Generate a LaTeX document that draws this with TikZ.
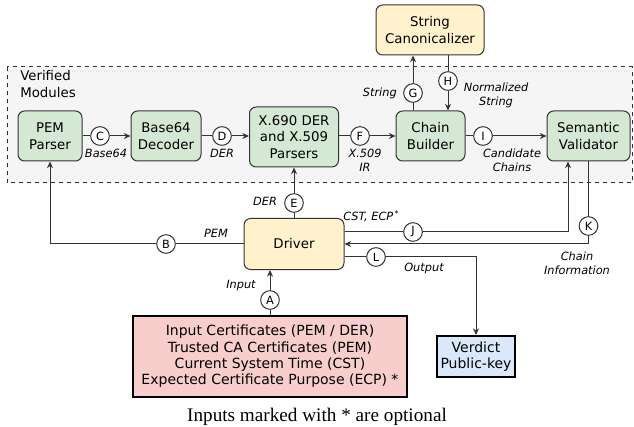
\documentclass[tikz,border=0pt]{standalone}
\usepackage{fontspec}
\setmainfont{DejaVu Sans}
\newfontfamily\capfont{Liberation Serif}
\usetikzlibrary{positioning,arrows.meta,calc}
\definecolor{modCol}{HTML}{D5E8D4}
\definecolor{drvCol}{HTML}{FFF2CC}
\definecolor{inCol}{HTML}{F8CECC}
\definecolor{outCol}{HTML}{DAE8FC}
\definecolor{bgGray}{HTML}{F5F5F5}
\definecolor{lineCol}{HTML}{333333}

\begin{document}
\begin{tikzpicture}[
    x=0.75pt, y=-0.75pt,
    >={Stealth[length=5pt,width=4.5pt]},
    font=\fontsize{10}{12.5}\selectfont,
    box/.style={rounded corners=5pt, draw=lineCol, line width=0.75pt,
      align=center, inner sep=2pt, minimum height=37.5pt},
    module/.style={box, fill=modCol},
    helper/.style={box, fill=drvCol},
    io/.style={draw=black, line width=1.5pt, align=center, inner sep=1.5pt,
      font=\fontsize{10.5}{12.3}\selectfont},
    tag/.style={circle, draw=lineCol, fill=white, line width=0.75pt,
      minimum size=14pt, inner sep=0pt, font=\fontsize{8.5}{10}\selectfont},
    lab/.style={font=\fontsize{8.5}{10.5}\selectfont\itshape, align=center, inner sep=0pt},
    arr/.style={->, line width=0.75pt, draw=lineCol},
  ]
\useasboundingbox (0,0) rectangle (634,427);

% Verified modules frame
\draw[dashed, draw=lineCol, fill=bgGray, line width=0.75pt] (7,67) rectangle (632,183);
\node[anchor=north west, align=left, inner sep=0pt] (vm) at (20,70) {Verified\\Modules};

% Modules
\node[module, minimum width=48pt] (pem) at (50,136) {PEM\\Parser};
\node[module, minimum width=52.5pt] (b64) at (166,136) {Base64\\Decoder};
\node[module, minimum width=66.75pt, minimum height=45pt] (x690) at (294,137) {X.690 DER\\and X.509\\Parsers};
\node[module, minimum width=51.75pt] (cb) at (430.5,136) {Chain\\Builder};
\node[module, minimum width=62.25pt] (sv) at (588.5,136) {Semantic\\Validator};
\node[helper, minimum width=81pt] (canon) at (430,30) {String\\Canonicalizer};
\node[helper, minimum width=75pt, minimum height=38.25pt] (drv) at (294,244) {Driver};

% Inputs and output
\node[io, fill=inCol, minimum width=205.5pt, minimum height=60.75pt] (inp) at (270,356.5)
  {Input Certificates (PEM / DER)\\Trusted CA Certificates (PEM)\\Current System Time (CST)\\Expected Certificate Purpose (ECP) *};
\node[io, fill=outCol, minimum width=58.5pt, minimum height=30.75pt] (vrd) at (476,356.5) {Verdict\\Public-key};

% Step tags
\node[tag] (a) at (270,300) {A};
\node[tag] (b) at (166,244) {B};
\node[tag] (c) at (100,136) {C};
\node[tag] (d) at (222,136) {D};
\node[tag] (e) at (294,203) {E};
\node[tag] (f) at (360,136) {F};
\node[tag] (g) at (413,93) {G};
\node[tag] (h) at (448,81) {H};
\node[tag] (i) at (483,136) {I};
\node[tag] (j) at (413,232) {J};
\node[tag] (k) at (588.5,226) {K};
\node[tag] (l) at (376,257) {L};
\coordinate (jturn) at (568,232);

% Connectors
\draw[arr] (a |- inp.north) -- (a) -- (a |- drv.south);
\draw[arr] (drv.west) -- (b) -| (pem);
\draw[arr] (pem) -- (c) -- (b64);
\draw[arr] (b64) -- (d) -- (x690.west |- d);
\draw[arr] (drv) -- (e) -- (x690);
\draw[arr] (x690.east |- f) -- (f) -- (cb);
\draw[arr] (g |- cb.north) -- (g) -- (g |- canon.south);
\draw[arr] (h |- canon.south) -- (h) -- (h |- cb.north);
\draw[arr] (cb) -- (i) -- (sv);
\draw[arr] (j -| drv.east) -- (j) -- (jturn) -- (jturn |- sv.south);
\draw[arr] (k |- sv.south) -- (k) |- (drv.east);
\draw[arr] (l -| drv.east) -- (l) -| (vrd);

% Labels
\node[lab] (lbase) at (106,153) {Base64};
\node[lab] (lder) at (222,153) {DER};
\node[lab] (lir) at (365,160.5) {X.509\\IR};
\node[lab] (lcand) at (512,160.5) {Candidate\\Chains};
\node[lab, anchor=east] (lstr) at (397,93) {String};
\node[lab] (lnorm) at (496,95.5) {Normalized\\String};
\node[lab] (lder2) at (265,201) {DER};
\node[lab] (lpem) at (216,233) {PEM};
\node[lab, anchor=west] (lcst) at (343,216) {CST, ECP\textsuperscript{\,*}};
\node[lab] (lchain) at (577,263) {Chain\\Information};
\node[lab] (lout) at (424,268) {Output};
\node[lab] (linp) at (241,286) {Input};

\node[font=\capfont\fontsize{14.4}{17}\selectfont] (cap) at (317,417) {Inputs marked with * are optional};

\end{tikzpicture}
\end{document}
